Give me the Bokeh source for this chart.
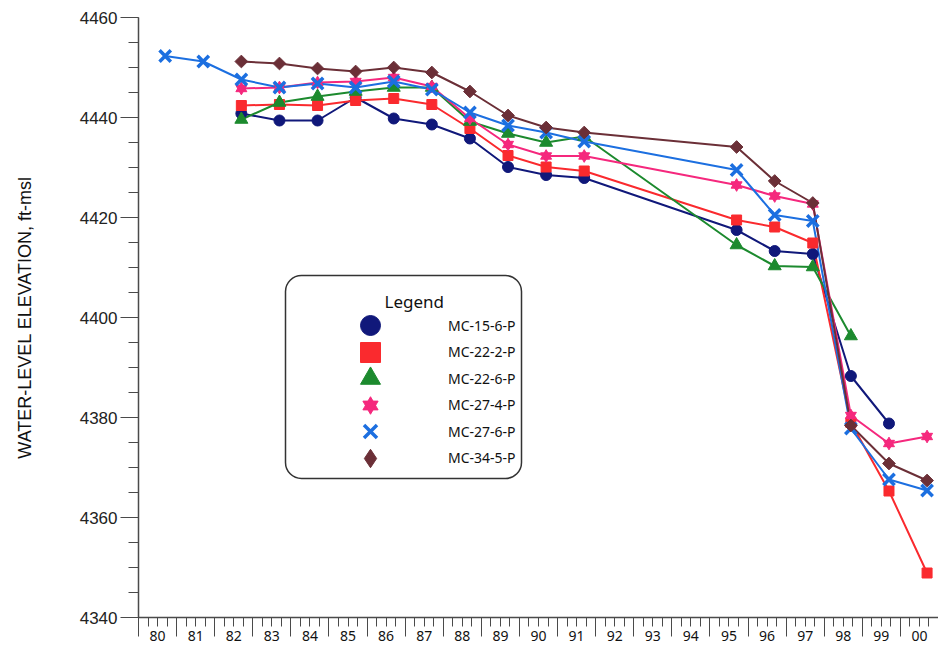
import math
from bokeh.plotting import figure
from bokeh.models import (FixedTicker, LinearAxis, Legend, LegendItem, Label,
                          BoxAnnotation, ColumnDataSource, Range1d)
from bokeh.embed import file_html
from bokeh.resources import INLINE

# ---------------- data ----------------
names = ["MC-15-6-P", "MC-22-2-P", "MC-22-6-P", "MC-27-4-P", "MC-27-6-P", "MC-34-5-P"]

years_15_6 = [1982, 1983, 1984, 1985, 1986, 1987, 1988, 1989, 1990, 1991, 1995, 1996, 1997, 1998, 1999]
elev_15_6 = [4440.8, 4439.4, 4439.4, 4444.0, 4439.8, 4438.6, 4435.8, 4430.1, 4428.5, 4427.9,
             4417.5, 4413.3, 4412.7, 4388.3, 4378.8]

years_22_2 = [1982, 1983, 1984, 1985, 1986, 1987, 1988, 1989, 1990, 1991, 1995, 1996, 1997, 1998, 1999, 2000]
elev_22_2 = [4442.4, 4442.6, 4442.4, 4443.4, 4443.8, 4442.6, 4437.8, 4432.4, 4430.1, 4429.3,
             4419.5, 4418.1, 4414.9, 4379.0, 4365.3, 4348.9]

years_22_6 = [1982, 1983, 1984, 1985, 1986, 1987, 1988, 1989, 1990, 1991, 1995, 1996, 1997, 1998]
elev_22_6 = [4439.6, 4443.0, 4444.2, 4445.2, 4446.0, 4446.0, 4439.2, 4436.8, 4435.0, 4436.2,
             4414.5, 4410.3, 4410.1, 4396.3]

years_27_4 = [1982, 1983, 1984, 1985, 1986, 1987, 1988, 1989, 1990, 1991, 1995, 1996, 1997, 1998, 1999, 2000]
elev_27_4 = [4445.8, 4446.0, 4447.0, 4447.2, 4448.0, 4446.2, 4439.8, 4434.6, 4432.3, 4432.3,
             4426.5, 4424.3, 4422.7, 4380.4, 4374.8, 4376.2]

years_27_6 = [1980, 1981, 1982, 1983, 1984, 1985, 1986, 1987, 1988, 1989, 1990, 1991, 1995, 1996, 1997, 1998, 1999, 2000]
elev_27_6 = [4452.3, 4451.2, 4447.6, 4446.0, 4446.8, 4446.0, 4447.2, 4445.6, 4441.0, 4438.4,
             4437.0, 4435.2, 4429.5, 4420.5, 4419.3, 4377.8, 4367.6, 4365.4]

years_34_5 = [1982, 1983, 1984, 1985, 1986, 1987, 1988, 1989, 1990, 1991, 1995, 1996, 1997, 1998, 1999, 2000]
elev_34_5 = [4451.2, 4450.8, 4449.8, 4449.2, 4450.0, 4449.0, 4445.2, 4440.4, 4438.0, 4437.0,
             4434.1, 4427.3, 4422.9, 4378.4, 4370.8, 4367.4]

axis_years = list(range(1980, 2001))
x_tick_labels = ["%02d" % (y % 100) for y in axis_years]
y_ticks = [4340, 4360, 4380, 4400, 4420, 4440, 4460]

# measurements were taken late in each year (fraction of the year)
SAMPLE_FRACTION = 0.7

# ---------------- styles ----------------
colors = ["#10187a", "#fa2a2e", "#1c8a2e", "#f5287d", "#1c6fe0", "#6b2f37"]

W, H = 938, 660
FRAME_LEFT_PAGE = 138
FRAME_TOP_PAGE = 17
FRAME_BOTTOM_PAGE = 617

p = figure(width=W, height=H, x_range=Range1d(1980, 2001), y_range=Range1d(4340, 4460),
           output_backend="svg", toolbar_location=None,
           min_border_left=FRAME_LEFT_PAGE, min_border_right=0,
           min_border_top=FRAME_TOP_PAGE, min_border_bottom=H - FRAME_BOTTOM_PAGE)
p.outline_line_color = None
p.xgrid.visible = False
p.ygrid.visible = False
p.background_fill_color = "white"
p.border_fill_color = "white"

AXIS_COLOR = "#4a4a4a"

# y axis
ya = p.yaxis[0]
ya.ticker = FixedTicker(ticks=y_ticks, minor_ticks=list(range(4340, 4461, 5)))
ya.axis_line_color = AXIS_COLOR
ya.axis_line_width = 1.5
ya.major_tick_line_color = AXIS_COLOR
ya.minor_tick_line_color = AXIS_COLOR
ya.major_tick_out = 18
ya.major_tick_in = 0
ya.minor_tick_out = 10
ya.minor_tick_in = 0
ya.major_label_standoff = 3
ya.major_label_text_font = "Liberation Sans"
ya.major_label_text_font_size = "17px"
ya.major_label_text_color = "#222222"
ya.axis_label = "WATER-LEVEL ELEVATION, ft-msl"
ya.axis_label_text_font = "Liberation Sans"
ya.axis_label_text_font_size = "18px"
ya.axis_label_text_font_style = "normal"
ya.axis_label_text_color = "#111111"
ya.axis_label_standoff = 42

# x axis: year boundary ticks
xa = p.xaxis[0]
xa.ticker = FixedTicker(ticks=list(range(1980, 2002)),
                        minor_ticks=[1980 + 0.25 * i for i in range(0, 85)])
xa.axis_line_color = AXIS_COLOR
xa.axis_line_width = 1.5
xa.major_tick_line_color = AXIS_COLOR
xa.minor_tick_line_color = AXIS_COLOR
xa.major_tick_out = 19
xa.major_tick_in = 0
xa.minor_tick_out = 9
xa.minor_tick_in = 0
xa.major_label_overrides = {y: "" for y in range(1980, 2002)}
xa.major_label_text_font_size = "1px"
xa.major_label_standoff = 0

# x axis: year labels centred in each year interval
p.extra_x_ranges = {"labels": Range1d(1979.5, 2000.5)}
xb = LinearAxis(x_range_name="labels",
                ticker=FixedTicker(ticks=axis_years, minor_ticks=[]),
                major_label_overrides={y: t for y, t in zip(axis_years, x_tick_labels)})
xb.axis_line_alpha = 0
xb.major_tick_out = 0
xb.major_tick_in = 0
xb.minor_tick_out = 0
xb.minor_tick_in = 0
xb.major_label_standoff = -6
xb.major_label_text_font = "Noto Sans"
xb.major_label_text_font_size = "14px"
xb.major_label_text_color = "#111111"
p.add_layout(xb, "below")

series = [
    (years_15_6, elev_15_6),
    (years_22_2, elev_22_2),
    (years_22_6, elev_22_6),
    (years_27_4, elev_27_4),
    (years_27_6, elev_27_6),
    (years_34_5, elev_34_5),
]

sources = []
for (yrs, vals), c in zip(series, colors):
    src = ColumnDataSource(dict(x=[y + SAMPLE_FRACTION for y in yrs], y=vals))
    p.line("x", "y", source=src, line_color=c, line_width=2)
    sources.append(src)

r0 = p.scatter("x", "y", source=sources[0], marker="circle", size=11,
               fill_color=colors[0], line_color=colors[0])
r1 = p.scatter("x", "y", source=sources[1], marker="square", size=10,
               fill_color=colors[1], line_color=colors[1])
r2 = p.scatter("x", "y", source=sources[2], marker="triangle", size=13,
               fill_color=colors[2], line_color=colors[2])
r3a = p.scatter("x", "y", source=sources[3], marker="triangle", size=11,
                fill_color=colors[3], line_color=colors[3])
r3b = p.scatter("x", "y", source=sources[3], marker="inverted_triangle", size=11,
                fill_color=colors[3], line_color=colors[3])
r4 = p.scatter("x", "y", source=sources[4], marker="x", size=16,
               line_color=colors[4], line_width=3.5)
# diamond drawn under the rotated squares (used for the legend swatch)
r5_leg = p.scatter("x", "y", source=sources[5], marker="diamond", size=8,
                   fill_color=colors[5], line_color=colors[5])
r5 = p.scatter("x", "y", source=sources[5], marker="square", angle=math.pi / 4,
               size=9, fill_color=colors[5], line_color=colors[5])

# ---------------- legend (page-pixel layout) ----------------
box = BoxAnnotation(left=285 - FRAME_LEFT_PAGE, right=521 - FRAME_LEFT_PAGE,
                    top=FRAME_BOTTOM_PAGE - 275, bottom=FRAME_BOTTOM_PAGE - 478,
                    left_units="screen", right_units="screen",
                    top_units="screen", bottom_units="screen",
                    fill_color="white", fill_alpha=1.0,
                    line_color="#333333", line_width=1.5, line_alpha=1.0,
                    border_radius=16)
p.add_layout(box)

p.add_layout(Label(x=384 - FRAME_LEFT_PAGE, y=FRAME_BOTTOM_PAGE - 301,
                   x_units="screen", y_units="screen", text="Legend",
                   text_font="Noto Sans", text_font_size="17px", text_color="#111111",
                   text_baseline="middle", text_align="left"))

legend_renderers = [[r0], [r1], [r2], [r3a, r3b], [r4], [r5_leg]]
legend_box = [50, 50, 50, 38, 46, 46]   # marker legend size = 0.4 * box
LEG_CX = 370
LEG_TEXT_X = 448
row_y = [325 + 26.5 * i for i in range(6)]
LABEL_H = 12
for name, rs, b, cy in zip(names, legend_renderers, legend_box, row_y):
    hleg = max(b, LABEL_H)
    leg = Legend(items=[LegendItem(label=name, renderers=rs)],
                 location=(LEG_CX - b / 2 - FRAME_LEFT_PAGE, FRAME_BOTTOM_PAGE - (cy + hleg / 2)),
                 glyph_width=b, glyph_height=b, label_height=LABEL_H,
                 label_standoff=int(LEG_TEXT_X - (LEG_CX + b / 2)),
                 padding=0, margin=0, spacing=0,
                 border_line_alpha=0, background_fill_alpha=0,
                 label_text_font="Noto Sans", label_text_font_size="14px",
                 label_text_color="#111111")
    p.add_layout(leg)

open("out.html", "w").write(file_html(p, INLINE))
